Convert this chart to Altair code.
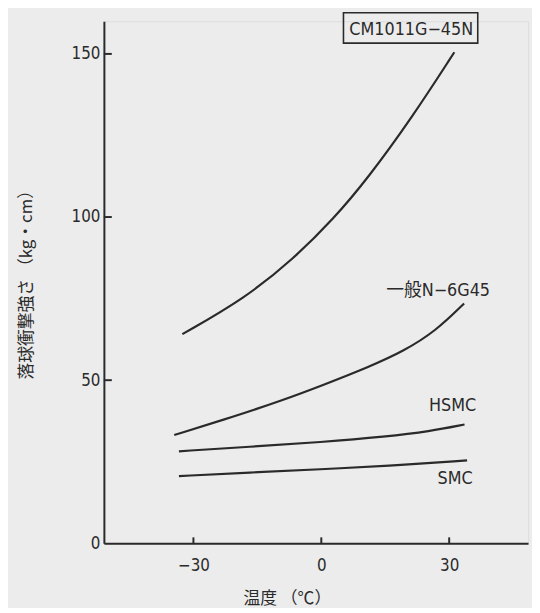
import altair as alt
import pandas as pd

# ---- data ----
series_names = ["CM1011G−45N", "一般N−6G45", "HSMC", "SMC"]

temp_cm = [-32.6, -18.0, -6.4, 2.9, 10.7, 21.5, 31.2]
val_cm = [64.1, 75.0, 87.3, 99.5, 111.5, 130.9, 150.5]

temp_n6 = [-34.5, -20.6, -9.0, 0.0, 11.4, 19.2, 26.9, 33.5]
val_n6 = [33.2, 38.8, 43.9, 48.3, 54.2, 58.8, 65.1, 73.5]

temp_hsmc = [-33.4, -16.8, 0.0, 15.3, 25.4, 33.6]
val_hsmc = [28.2, 29.6, 31.0, 32.7, 34.3, 36.4]

temp_smc = [-33.4, -16.8, 0.0, 15.3, 34.2]
val_smc = [20.6, 21.7, 22.7, 23.7, 25.4]

x_ticks = [-30, 0, 30]
y_ticks = [0, 50, 100, 150]
x_title = "温度 （℃）"
y_title = "落球衝撃強さ （kg・cm）"

rows = []
for name, ts, vs in zip(series_names,
                        [temp_cm, temp_n6, temp_hsmc, temp_smc],
                        [val_cm, val_n6, val_hsmc, val_smc]):
    for t, v in zip(ts, vs):
        rows.append({"series": name, "temp": t, "value": v})
df = pd.DataFrame(rows)

# label anchor positions (data units)
label_df = pd.DataFrame({
    "label": series_names,
    "temp": [21.1, 27.4, 30.8, 31.4],
    "value": [157.4, 77.4, 42.1, 19.6],
})
box_df = pd.DataFrame({"temp": [5.2], "temp2": [36.7], "value": [153.3], "value2": [162.6]})

W, H = 429, 528
INK = "#2a2a2a"
NARROW = "DejaVu Sans Condensed, Liberation Sans Narrow, Noto Sans CJK JP, sans-serif"
CJK = "Noto Sans CJK JP, sans-serif"

xscale = alt.Scale(domain=[-51, 48.5], nice=False, zero=False)
yscale = alt.Scale(domain=[0, 160], nice=False, zero=False)

xaxis = alt.Axis(values=x_ticks, title=x_title, grid=False, ticks=False,
                 domainColor=INK, domainWidth=2,
                 labelFont=NARROW, labelFontSize=17, labelColor=INK, labelPadding=15,
                 labelExpr="datum.value < 0 ? '−' + abs(datum.value) + '\u2007' : datum.label",
                 titleFont=CJK, titleFontSize=17, titleFontWeight="normal", titleColor=INK,
                 titleX=185, titleY=56, titleAlign="center", titleBaseline="middle")
yaxis = alt.Axis(values=y_ticks, title=y_title, grid=False, ticks=False,
                 domainColor=INK, domainWidth=2,
                 labelFont=NARROW, labelFontSize=17, labelColor=INK, labelPadding=4,
                 titleFont=CJK, titleFontSize=17, titleFontWeight="normal", titleColor=INK,
                 titleX=-78, titleY=262, titleAlign="center", titleBaseline="middle", titleAngle=-90)

def X(field="temp"):
    return alt.X(f"{field}:Q", scale=xscale, axis=xaxis)

def Y(field="value"):
    return alt.Y(f"{field}:Q", scale=yscale, axis=yaxis)

lines = alt.Chart(df).mark_line(interpolate="basis", color=INK, strokeWidth=2.2).encode(
    x=X(), y=Y(), detail="series:N"
)

ytick_rules = alt.Chart(pd.DataFrame({"value": y_ticks[1:]})).mark_rule(
    color=INK, strokeWidth=2).encode(y=Y(), x=alt.value(0), x2=alt.value(8))

xtick_rules = alt.Chart(pd.DataFrame({"temp": x_ticks})).mark_rule(
    color=INK, strokeWidth=2).encode(x=X(), y=alt.value(H), y2=alt.value(H - 6))

labels = alt.Chart(label_df).mark_text(
    font=NARROW, fontSize=18, color=INK, align="center", baseline="middle").encode(
    x=X(), y=Y(), text="label:N")

box = alt.Chart(box_df).mark_rect(fill=None, stroke=INK, strokeWidth=1.6).encode(
    x=X(), x2="temp2:Q", y=Y(), y2="value2:Q")

chart = alt.layer(lines, ytick_rules, xtick_rules, box, labels).properties(
    width=W, height=H,
    autosize=alt.AutoSizeParams(type="none"),
    padding={"left": 97, "top": 10, "right": 4, "bottom": 62},
).configure_view(stroke=None).configure(background="#ececec")

chart.save("out.html", embed_options={"renderer": "svg", "actions": False})
